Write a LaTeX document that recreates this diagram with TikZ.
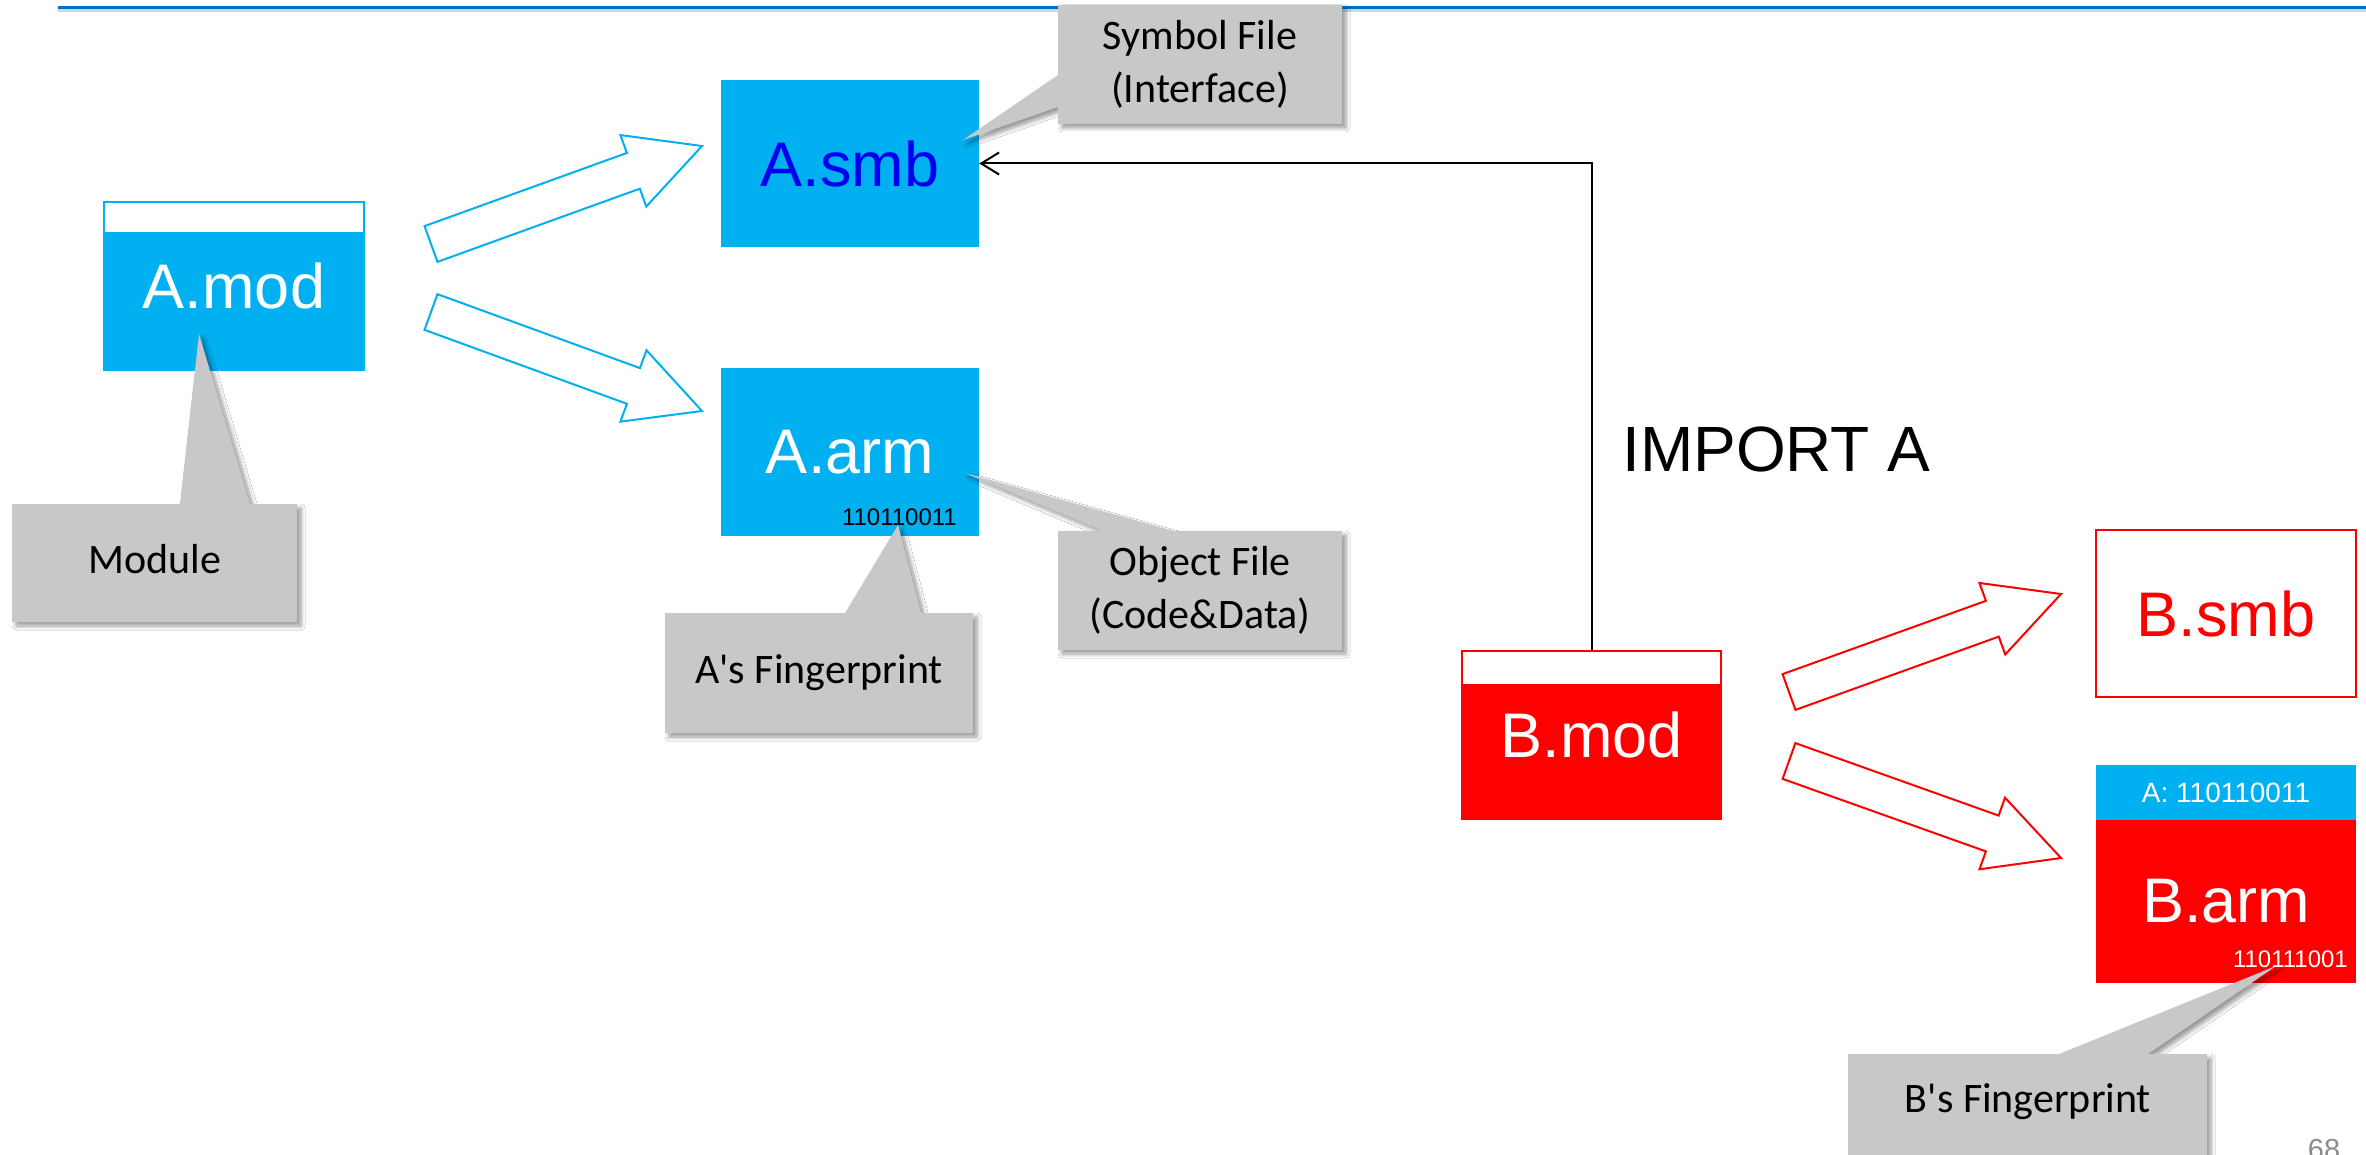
\documentclass[tikz,border=0pt]{standalone}
\usepackage{fontspec}
\setmainfont{Liberation Sans}
\newfontfamily\cali{Carlito}
\usetikzlibrary{calc,arrows.meta,shadows.blur}
\definecolor{cyanbox}{RGB}{0,176,240}
\definecolor{redbox}{RGB}{255,0,0}
\definecolor{callgray}{RGB}{200,200,200}
\definecolor{lineblue}{RGB}{0,112,192}
\definecolor{txtblue}{RGB}{0,0,240}
\definecolor{pgnum}{RGB}{140,140,140}
% #1 tail coordinate, #2 tip coordinate, #3 colour
\newcommand\fatarrow[3]{%
  \coordinate (#1-n) at ($(#2)!73pt!(#1)$);
  \draw[#3, line width=2pt, fill=white, line join=miter]
    ($(#1)!19pt!90:(#2)$) -- ($(#1-n)!19pt!-90:(#1)$) -- ($(#1-n)!38pt!-90:(#1)$)
    -- (#2) -- ($(#1-n)!38pt!90:(#1)$) -- ($(#1-n)!19pt!90:(#1)$)
    -- ($(#1)!19pt!-90:(#2)$) -- cycle;
}
\begin{document}
\begin{tikzpicture}[x=1pt,y=-1pt,
  big/.style={font=\fontsize{63}{76}\selectfont, inner sep=0pt},
  filebox/.style={big, minimum width=258pt, minimum height=167pt},
  callout/.style={fill=callgray, blur shadow={shadow xshift=4pt, shadow yshift=-4pt, shadow blur radius=4pt, shadow blur steps=6}},
  calltext/.style={font=\cali\fontsize{42}{53}\selectfont, inner sep=0pt, anchor=base},
  fp/.style={font=\fontsize{24}{28}\selectfont, inner sep=0pt, anchor=base east},
]
\useasboundingbox (0,0) rectangle (2366,1155);
\clip (0,0) rectangle (2366,1155);
\fill[white] (0,0) rectangle (2366,1155);

% title rule
\coordinate (rl) at (58,8);
\coordinate (rr) at (2366,8);
\draw[lineblue!25, line width=3pt] ($(rl)+(0,3)$) -- ($(rr)+(0,3)$);
\draw[lineblue, line width=3pt] (rl) -- (rr);

% hollow arrows
\coordinate (ta1) at (431,244);  \coordinate (hd1) at (702,146);
\coordinate (ta2) at (431,312);  \coordinate (hd2) at (702,411);
\coordinate (ta3) at (1789,692); \coordinate (hd3) at (2061,594);
\coordinate (ta4) at (1789,761); \coordinate (hd4) at (2061,858);
\fatarrow{ta1}{hd1}{cyanbox}
\fatarrow{ta2}{hd2}{cyanbox}
\fatarrow{ta3}{hd3}{redbox}
\fatarrow{ta4}{hd4}{redbox}

% module A
\node[big, text=white, draw=cyanbox, line width=1.5pt, fill=white,
      minimum width=260pt, minimum height=168pt,
      path picture={\fill[cyanbox] ($(path picture bounding box.north west)+(0,30)$) rectangle (path picture bounding box.south east);}]
      (Amod) at (234,286) {A.mod};
\node[filebox, fill=cyanbox, text=txtblue] (Asmb) at (850,163.5) {A.smb};
\node[filebox, fill=cyanbox, text=white, minimum height=168pt] (Aarm) at (850,452) {A.arm};

% module B
\node[big, text=white, draw=redbox, line width=1.5pt, fill=white,
      minimum width=259pt, minimum height=168pt,
      path picture={\fill[redbox] ($(path picture bounding box.north west)+(0,33)$) rectangle (path picture bounding box.south east);}]
      (Bmod) at (1591.5,735) {B.mod};
\node[filebox, draw=redbox, line width=2pt, fill=white, text=redbox, minimum width=260pt] (Bsmb) at (2226,613.5) {B.smb};
\node[font=\fontsize{28}{32}\selectfont, inner sep=0pt, fill=cyanbox, text=white, minimum width=260pt, minimum height=55pt] (Bstrip) at (2226,792.5) {A: 110110011};
\node[filebox, fill=redbox, text=white, minimum width=260pt, minimum height=163pt] (Barm) at (2226,901.5) {B.arm};

% import connector
\draw[line width=2pt, -{Straight Barb[length=18pt,width=22pt,line width=2pt]}] (Bmod.north) |- (Asmb.east);
\node[anchor=base west, font=\fontsize{64}{76}\selectfont, inner sep=0pt] (imp) at (1622,471) {IMPORT A};

% callouts
\path[callout] (12,504) -- (180,504) -- (199,334) -- (250,504) -- (297,504) -- (297,622) -- (12,622) -- cycle;
\node[calltext] (modlbl) at (155,573) {Module};

\path[callout] (1058,5) -- (1342,5) -- (1342,124) -- (1058,124) -- (1058,107) -- (963,140) -- (1058,75) -- cycle;
\node[calltext] (symlbl) at (1200,50) {\begin{tabular}[t]{@{}c@{}}Symbol File\\(Interface)\end{tabular}};

\path[callout] (1058,531) -- (1103,531) -- (965,473) -- (1174,531) -- (1342,531) -- (1342,650) -- (1058,650) -- cycle;
\node[calltext] (objlbl) at (1200,575) {\begin{tabular}[t]{@{}c@{}}Object File\\(Code\&Data)\end{tabular}};

\path[callout] (665,613) -- (845,613) -- (898,525) -- (921,613) -- (973,613) -- (973,733) -- (665,733) -- cycle;
\node[calltext] (afplbl) at (819,683) {A's Fingerprint};

\path[callout] (1848,1054) -- (2059,1054) -- (2276,966) -- (2148,1054) -- (2207,1054) -- (2207,1180) -- (1848,1180) -- cycle;
\node[calltext] (bfplbl) at (2028,1112) {B's Fingerprint};

% fingerprints
\node[fp] (afp) at (957,525) {110110011};
\node[fp, text=white] (bfp) at (2348,967) {110111001};

% page number
\node[anchor=base, text=pgnum, font=\fontsize{29}{34}\selectfont, inner sep=0pt] (pg) at (2324,1159) {68};
\end{tikzpicture}
\end{document}
